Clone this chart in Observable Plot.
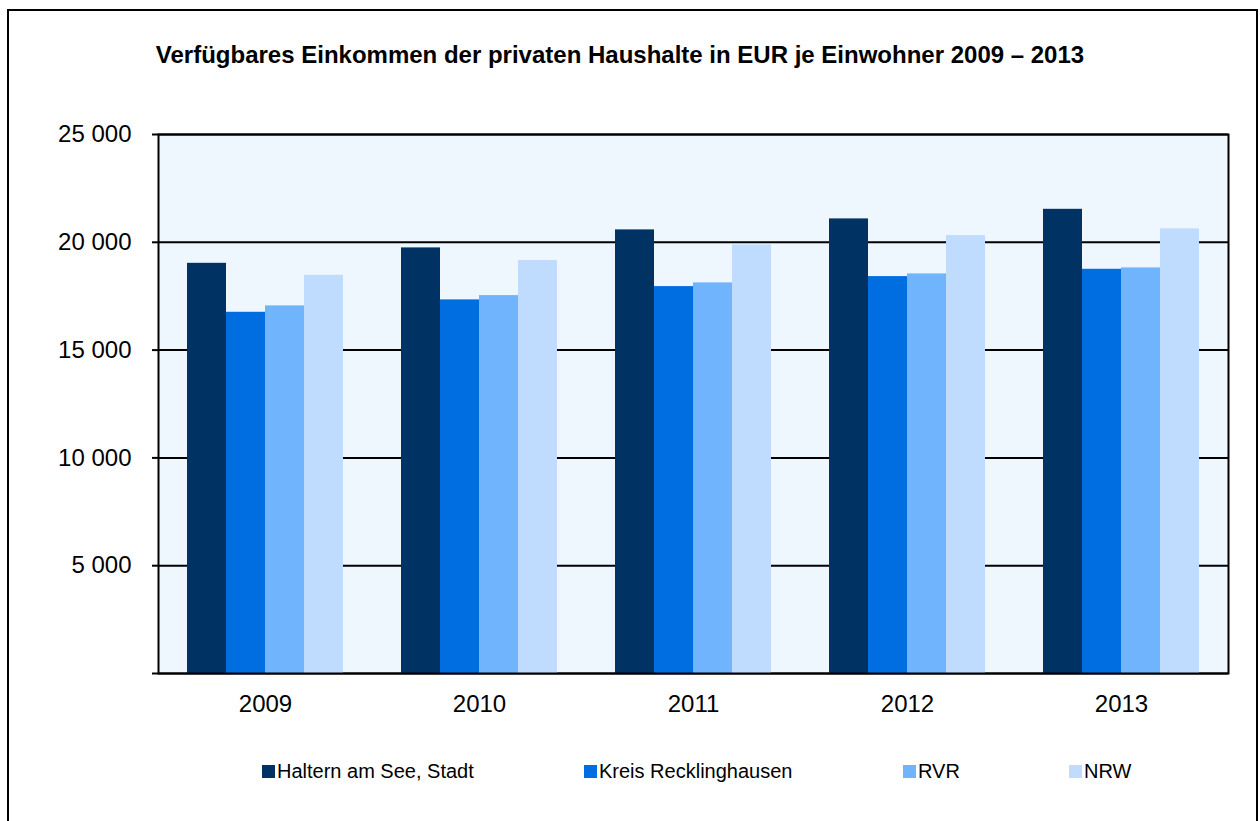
<!DOCTYPE html>
<html>
<head>
<meta charset="utf-8">
<script src="https://cdn.jsdelivr.net/npm/d3@7"></script>
<script src="https://cdn.jsdelivr.net/npm/@observablehq/plot@0.6"></script>
<style>
  html, body { margin: 0; padding: 0; background: #fff; }
  body { width: 1260px; height: 821px; overflow: hidden; position: relative; font-family: "Liberation Sans", Arial, sans-serif; }
  #border { position: absolute; left: 7px; top: 9px; width: 1251px; height: 840px; box-sizing: border-box; border: 2.5px solid #000; pointer-events: none; }
  #title { position: absolute; left: 0; top: 43px; width: 1240px; text-align: center; font-weight: bold; font-size: 24px; line-height: 1; color: #000; }
  #chart { position: absolute; left: 0; top: 0; }
  .leg { position: absolute; top: 761px; font-size: 20px; line-height: 1; color: #000; white-space: nowrap; }
  .sw { position: absolute; top: 765px; width: 13px; height: 13px; }
  #chart svg [aria-label="y-axis tick"] path { stroke-width: 2; }
</style>
</head>
<body>
<div id="border"></div>
<div id="title">Verfügbares Einkommen der privaten Haushalte in EUR je Einwohner 2009 – 2013</div>
<div id="chart"></div>
<div id="legend"></div>
<script>
const years = ["2009", "2010", "2011", "2012", "2013"];
const seriesNames = ["Haltern am See, Stadt", "Kreis Recklinghausen", "RVR", "NRW"];
const colors = ["#013264", "#006ee0", "#71b4fe", "#bfdcfe"];
const haltern = [19025, 19740, 20575, 21085, 21530];
const kreis = [16754, 17329, 17945, 18409, 18748];
const rvr = [17050, 17528, 18117, 18534, 18812];
const nrw = [18470, 19151, 19879, 20310, 20621];
const yTicks = [0, 5000, 10000, 15000, 20000, 25000];
const legendX = [262, 584, 903, 1069];

const seriesValues = [haltern, kreis, rvr, nrw];
const data = [];
years.forEach((yr, i) => {
  seriesNames.forEach((s, j) => data.push({year: yr, series: s, value: seriesValues[j][i]}));
});

const fmt = d => d === 0 ? "" : d3.format(",")(d).replace(/,/g, " ");

const chart = Plot.plot({
  width: 1260,
  height: 740,
  marginTop: 134,
  marginLeft: 157,
  marginRight: 31,
  marginBottom: 67,
  style: {fontFamily: "'Liberation Sans', Arial, sans-serif", fontSize: "24px", color: "#000", background: "transparent", overflow: "visible"},
  fx: {domain: years, padding: 0, axis: "bottom", tickSize: 0, tickPadding: 21, label: null},
  x: {domain: seriesNames, axis: null, paddingInner: 0, paddingOuter: 0.707},
  y: {domain: [0, 25000], ticks: yTicks, tickFormat: fmt, tickSize: 6, tickPadding: 21, label: null},
  color: {domain: seriesNames, range: colors},
  marks: [
    Plot.frame({fill: "#eef6fe", facet: "super"}),
    Plot.ruleY(yTicks, {stroke: "#000", strokeWidth: 2}),
    Plot.barY(data, {fx: "year", x: "series", y: "value", fill: "series"}),
    Plot.frame({stroke: "#000", strokeWidth: 2, facet: "super"})
  ]
});
document.getElementById("chart").appendChild(chart);

const legend = document.getElementById("legend");
seriesNames.forEach((s, j) => {
  const sw = document.createElement("div");
  sw.className = "sw";
  sw.style.left = legendX[j] + "px";
  sw.style.background = colors[j];
  legend.appendChild(sw);
  const t = document.createElement("div");
  t.className = "leg";
  t.style.left = (legendX[j] + 15) + "px";
  t.textContent = s;
  legend.appendChild(t);
});
</script>
</body>
</html>
